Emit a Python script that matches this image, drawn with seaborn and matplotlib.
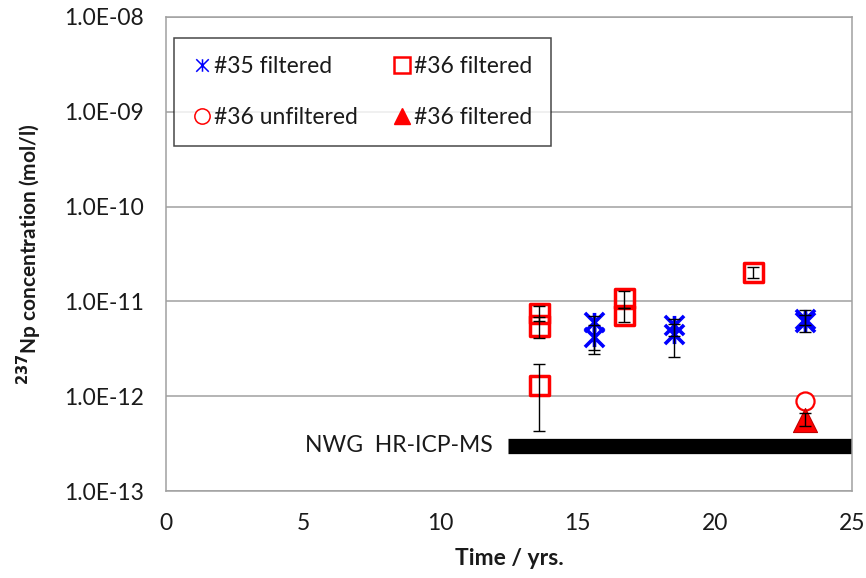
import matplotlib
matplotlib.use("Agg")
import matplotlib.pyplot as plt
from matplotlib.path import Path
from matplotlib.lines import Line2D
import seaborn as sns
import pandas as pd

# --- data -------------------------------------------------------------
# #35 filtered (asterisks)
s35_time = [15.6, 15.6, 18.5, 18.5, 23.3, 23.3]
s35_conc = [6.0e-12, 4.2e-12, 5.7e-12, 4.5e-12, 6.6e-12, 6.1e-12]
s35_lo = [3.1e-12, 2.8e-12, 4.3e-12, 2.6e-12, 5.6e-12, 4.7e-12]
s35_hi = [7.0e-12, 5.6e-12, 6.5e-12, 5.8e-12, 8.2e-12, 7.2e-12]

# #36 filtered (squares)
s36f_time = [13.6, 13.6, 13.6, 16.7, 16.7, 21.4]
s36f_conc = [7.5e-12, 5.5e-12, 1.3e-12, 1.07e-11, 7.1e-12, 2.03e-11]
s36f_lo = [6.2e-12, 4.1e-12, 4.3e-13, 8.5e-12, 6.0e-12, 1.78e-11]
s36f_hi = [9.0e-12, 6.8e-12, 2.2e-12, 1.28e-11, 8.5e-12, 2.33e-11]

# #36 unfiltered (circle)
s36u_time = [23.3]
s36u_conc = [8.9e-13]

# #36 filtered, HR-ICP-MS (triangle)
s36t_time = [23.3]
s36t_conc = [5.6e-13]
s36t_lo = [4.8e-13]
s36t_hi = [6.7e-13]

# detection limit of NWG HR-ICP-MS
dl_start, dl_end = 12.45, 25.0
dl_level = 3.0e-13
dl_label = "NWG  HR-ICP-MS"

x_ticks = [0, 5, 10, 15, 20, 25]
y_ticks = [1e-13, 1e-12, 1e-11, 1e-10, 1e-9, 1e-8]
y_ticklabels = ["1.0E-13", "1.0E-12", "1.0E-11", "1.0E-10", "1.0E-09", "1.0E-08"]

legend_labels = ["#35 filtered", "#36 unfiltered", "#36 filtered", "#36 filtered"]

# --- styling ----------------------------------------------------------
sns.set_theme(style="white")
plt.rcParams["font.family"] = ["Lato", "DejaVu Sans"]

BLUE = "#0000FF"
RED = "#FF0000"
GRID = "#A0A0A0"
TXT = "#1a1a1a"
FS = 16.5

# asterisk marker: an X crossed by a vertical stroke
asterisk = Path(
    [(-1, -1), (1, 1), (-1, 1), (1, -1), (0, -1), (0, 1)],
    [Path.MOVETO, Path.LINETO, Path.MOVETO, Path.LINETO, Path.MOVETO, Path.LINETO],
)

fig = plt.figure(figsize=(8.66, 5.78), dpi=100)
ax = fig.add_axes([0.1917, 0.1505, 0.7921, 0.8201])
ax.set_yscale("log")
ax.set_xlim(0, 25)
ax.set_ylim(1e-13, 1e-8)

ax.yaxis.grid(True, color=GRID, linewidth=1.1)
ax.set_axisbelow(True)
for sp in ax.spines.values():
    sp.set_color(GRID)
    sp.set_linewidth(1.1)

# detection-limit bar
ax.hlines(dl_level, dl_start, dl_end, color="black", linewidth=11, zorder=2)
ax.text(11.9, dl_level, dl_label, ha="right", va="center", fontsize=FS, color=TXT)

df35 = pd.DataFrame({"t": s35_time, "c": s35_conc})
df36f = pd.DataFrame({"t": s36f_time, "c": s36f_conc})
df36u = pd.DataFrame({"t": s36u_time, "c": s36u_conc})
df36t = pd.DataFrame({"t": s36t_time, "c": s36t_conc})

sns.scatterplot(data=df36f, x="t", y="c", ax=ax, marker="s", s=190,
                facecolors="none", edgecolor=RED, linewidth=2.5, zorder=3, legend=False)
sns.scatterplot(data=df35, x="t", y="c", ax=ax, marker=asterisk, s=190,
                color=BLUE, edgecolor=BLUE, linewidth=2.6, zorder=3, legend=False)
sns.scatterplot(data=df36u, x="t", y="c", ax=ax, marker="o", s=170,
                facecolors="white", edgecolor=RED, linewidth=1.6, zorder=3, legend=False)
sns.scatterplot(data=df36t, x="t", y="c", ax=ax, marker="^", s=300,
                color=RED, edgecolor="#C00000", linewidth=0.8, zorder=3, legend=False)

# error bars
def draw_err(t, c, lo, hi):
    lower = [ci - li for ci, li in zip(c, lo)]
    upper = [hi_ - ci for ci, hi_ in zip(c, hi)]
    ax.errorbar(t, c, yerr=[lower, upper], fmt="none", ecolor="black",
                elinewidth=1.0, capsize=4.5, capthick=1.0, zorder=4)

draw_err(s36f_time, s36f_conc, s36f_lo, s36f_hi)
draw_err(s35_time, s35_conc, s35_lo, s35_hi)
draw_err(s36t_time, s36t_conc, s36t_lo, s36t_hi)

# axes text
ax.set_xticks(x_ticks)
ax.set_xticklabels([str(v) for v in x_ticks])
ax.set_yticks(y_ticks)
ax.set_yticklabels(y_ticklabels)
ax.minorticks_off()
ax.tick_params(axis="both", which="major", direction="out", length=7,
               width=1.1, color=GRID, labelsize=FS, labelcolor=TXT)
ax.tick_params(axis="y", pad=9)
ax.tick_params(axis="x", pad=9)

ax.set_xlabel("Time / yrs.", fontsize=FS, fontweight="bold", labelpad=10, color=TXT)
ax.set_ylabel(r"$\mathbf{^{237}}$Np concentration (mol/l)", fontsize=15,
              fontweight="bold", labelpad=14, color=TXT)

handles = [
    Line2D([], [], linestyle="none", marker=asterisk, markersize=9,
           markeredgecolor=BLUE, markeredgewidth=1.1, color=BLUE),
    Line2D([], [], linestyle="none", marker="o", markersize=11,
           markerfacecolor="white", markeredgecolor=RED, markeredgewidth=1.1),
    Line2D([], [], linestyle="none", marker="s", markersize=11,
           markerfacecolor="white", markeredgecolor=RED, markeredgewidth=1.8),
    Line2D([], [], linestyle="none", marker="^", markersize=12,
           markerfacecolor=RED, markeredgecolor=RED),
]
leg = ax.legend(handles, legend_labels, ncol=2, loc="upper left",
                bbox_to_anchor=(0.0117, 0.956), fontsize=FS, frameon=True,
                fancybox=False, edgecolor=TXT, handlelength=0.8,
                handletextpad=0.15, labelspacing=1.3, columnspacing=1.5,
                borderpad=0.8, borderaxespad=0)
leg.get_frame().set_linewidth(1.1)
for t in leg.get_texts():
    t.set_color(TXT)

fig.savefig("out.png", dpi=100)
